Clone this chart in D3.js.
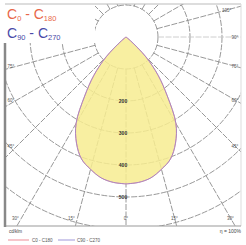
<!DOCTYPE html>
<html><head><meta charset="utf-8">
<script src="https://cdn.jsdelivr.net/npm/d3@7"></script>
<style>html,body{margin:0;padding:0;background:#fff;}svg{display:block;font-family:"Liberation Sans",Arial,sans-serif;}</style>
</head><body>
<script>
// Data (gamma angle in degrees, luminous intensity in cd/klm)
const gammaAngles = [0,5,10,15,20,25,30,35,40,45,50,55,60,70,80,90];
const intensityC0C180 = [459,456,447,428,406,366,312,225,156,88,19,0,0,0,0,0];
const intensityC90C270 = [459,456,447,428,406,366,312,225,156,88,19,0,0,0,0,0];
const circleValues = [100,200,300,400,500,600,700];
const circleLabels = ["200","300","400","500"];
const circleLabelValues = [200,300,400,500];
const angleTicks = [0,15,30,45,60,75,90,105,120,135,150,165,180];
const angleLabelsRight = [0,15,30,45,60,75,90,105];
const angleLabelsLeft = [15,30,45,60,75];

const W=246,H=245;
const svg=d3.select("body").append("svg").attr("width",W).attr("height",H);
const fx0=5,fx1=241,fy0=4,fy1=226;
const cx=126,cy=37;
const r=d3.scaleLinear().domain([0,100]).range([0,32]);

svg.append("defs").append("clipPath").attr("id","frame")
  .append("rect").attr("x",fx0).attr("y",fy0).attr("width",fx1-fx0).attr("height",fy1-fy0);
const g=svg.append("g").attr("clip-path","url(#frame)");

function pt(gam,rad,side){const a=gam*Math.PI/180;return [cx+side*rad*Math.sin(a),cy+rad*Math.cos(a)];}

const gridColor="#8c8c8c";
g.selectAll("circle.grid").data(circleValues).join("circle")
 .attr("cx",cx).attr("cy",cy).attr("r",d=>r(d)).attr("fill","none")
 .attr("stroke",gridColor).attr("stroke-width",0.9).attr("stroke-dasharray","6,1.5");
const rays=[];angleTicks.forEach(a=>{rays.push([a,1]);if(a>0&&a<180)rays.push([a,-1]);});
g.selectAll("line.ray").data(rays).join("line")
 .attr("x1",d=>pt(d[0],r(100),d[1])[0]).attr("y1",d=>pt(d[0],r(100),d[1])[1])
 .attr("x2",d=>pt(d[0],400,d[1])[0]).attr("y2",d=>pt(d[0],400,d[1])[1])
 .attr("stroke",d=>d[0]===90?"#c8c8c8":gridColor).attr("stroke-width",0.9).attr("stroke-dasharray","6,1.5");

function curvePts(vals){
  const right=gammaAngles.map((a,i)=>pt(a,r(vals[i]),1));
  const left=gammaAngles.map((a,i)=>pt(a,r(vals[i]),-1)).reverse();
  return right.concat(left.slice(1));
}
const line=d3.line().curve(d3.curveCatmullRomClosed);
g.append("path").attr("d",line(curvePts(intensityC0C180))).attr("fill","#f7ec90").attr("fill-opacity",0.85).attr("stroke","none");
g.append("path").attr("d",line(curvePts(intensityC0C180))).attr("fill","none").attr("stroke","#e89aa0").attr("stroke-width",1);
g.append("path").attr("d",line(curvePts(intensityC90C270))).attr("fill","none").attr("stroke","#9a80c8").attr("stroke-width",0.8);

g.selectAll("text.cl").data(circleLabelValues).join("text")
 .attr("x",cx-3).attr("y",(d)=>cy+r(d)+2).attr("font-size",5).attr("font-weight","bold")
 .attr("text-anchor","middle").attr("fill","#333").text((d,i)=>circleLabels[i]);

function edgePoint(a){
  const ang=a*Math.PI/180;const dx=Math.sin(ang),dy=Math.cos(ang);
  let t=1e9;
  if(dx>0)t=Math.min(t,(fx1-6-cx)/dx);
  if(dy>0)t=Math.min(t,(fy1-8-cy)/dy);
  if(dy<0)t=Math.min(t,(fy0+6-cy)/dy);
  return [cx+t*dx,cy+t*dy];
}
const labs=[];angleLabelsRight.forEach(a=>labs.push([a,1]));angleLabelsLeft.forEach(a=>labs.push([a,-1]));
g.selectAll("text.al").data(labs).join("text")
 .attr("x",d=>{const p=edgePoint(d[0]);return d[1]>0?p[0]:(fx0+fx1)-p[0];})
 .attr("y",d=>edgePoint(d[0])[1]+2)
 .attr("font-size",4.5).attr("text-anchor","middle").attr("fill","#555")
 .text(d=>d[0]+"°");

svg.append("rect").attr("x",fx0).attr("y",fy0).attr("width",90).attr("height",39).attr("fill","#fff");
function cLabel(x,y,a,b,color){
  const t=svg.append("text").attr("x",x).attr("y",y).attr("fill",color).attr("font-size",14);
  t.append("tspan").text("C");
  t.append("tspan").attr("font-size",7.5).attr("dy",2).text(a);
  t.append("tspan").attr("dy",-2).text(" - C");
  t.append("tspan").attr("font-size",7.5).attr("dy",2).text(b);
}
cLabel(7,19,"0","180","#e8674a");
cLabel(7,38,"90","270","#4a4aa8");

svg.append("line").attr("x1",fx0).attr("x2",fx1).attr("y1",fy0).attr("y2",fy0).attr("stroke","#bbb").attr("stroke-width",1);
svg.append("line").attr("x1",fx1).attr("x2",fx1).attr("y1",fy0).attr("y2",fy1).attr("stroke","#ddd").attr("stroke-width",1);
svg.append("line").attr("x1",fx0).attr("x2",fx1).attr("y1",fy1).attr("y2",fy1).attr("stroke","#999").attr("stroke-width",1.2);
svg.append("line").attr("x1",fx0).attr("x2",fx0).attr("y1",43).attr("y2",fy1+1).attr("stroke","#888").attr("stroke-width",2.5);

svg.append("text").attr("x",9).attr("y",233).attr("font-size",4.5).attr("fill","#444").text("cd/klm");
svg.append("line").attr("x1",8).attr("x2",29).attr("y1",240).attr("y2",240).attr("stroke","#f0a0a8").attr("stroke-width",1.2);
svg.append("text").attr("x",32).attr("y",241.5).attr("font-size",4.5).attr("fill","#555").text("C0 - C180");
svg.append("line").attr("x1",58).attr("x2",75).attr("y1",240).attr("y2",240).attr("stroke","#b0a8e0").attr("stroke-width",1.2);
svg.append("text").attr("x",77).attr("y",241.5).attr("font-size",4.5).attr("fill","#555").text("C90 - C270");
svg.append("text").attr("x",241).attr("y",233).attr("font-size",5).attr("text-anchor","end").attr("fill","#444").text("η = 100%");
</script>
</body></html>
